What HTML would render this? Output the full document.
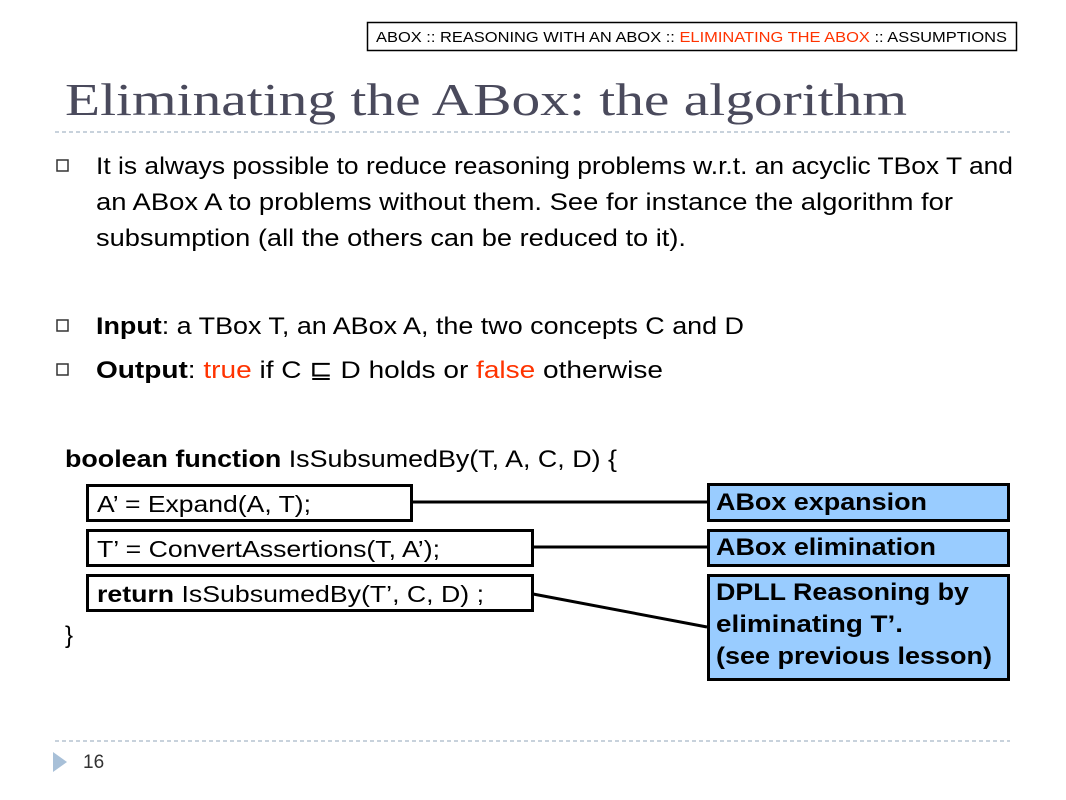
<!DOCTYPE html>
<html><head><meta charset="utf-8"><style>
html,body{margin:0;padding:0;background:#fff;width:1066px;height:800px;overflow:hidden}
</style></head><body>
<svg width="1066" height="800" xmlns="http://www.w3.org/2000/svg" font-family="Liberation Sans, sans-serif">
<rect x="367.5" y="22.5" width="649" height="28" fill="#fff" stroke="#000" stroke-width="1.5"/>
<text x="376" y="42" font-size="15" textLength="631" lengthAdjust="spacingAndGlyphs">ABOX :: REASONING WITH AN ABOX :: <tspan fill="#ff3300">ELIMINATING THE ABOX</tspan> :: ASSUMPTIONS</text>
<text x="65" y="115" font-family="Liberation Serif, serif" font-size="46" fill="#4a4a5c" textLength="842" lengthAdjust="spacingAndGlyphs">Eliminating the ABox: the algorithm</text>
<line x1="55" y1="132" x2="1010" y2="132" stroke="#a8b8c8" stroke-width="1.2" stroke-dasharray="4,3"/>
<g fill="none" stroke="#333" stroke-width="1.5">
<rect x="57" y="160" width="11" height="11"/><rect x="57" y="320" width="11" height="11"/><rect x="57" y="364" width="11" height="11"/>
</g>
<g font-size="24" fill="#000">
<text x="96" y="174" textLength="917" lengthAdjust="spacingAndGlyphs">It is always possible to reduce reasoning problems w.r.t. an acyclic TBox T and</text>
<text x="96" y="210" textLength="857" lengthAdjust="spacingAndGlyphs">an ABox A to problems without them. See for instance the algorithm for</text>
<text x="96" y="246" textLength="590" lengthAdjust="spacingAndGlyphs">subsumption (all the others can be reduced to it).</text>
<text x="96" y="334" textLength="648" lengthAdjust="spacingAndGlyphs"><tspan font-weight="bold">Input</tspan>: a TBox T, an ABox A, the two concepts C and D</text>
<text x="96" y="378" textLength="567" lengthAdjust="spacingAndGlyphs"><tspan font-weight="bold">Output</tspan>: <tspan fill="#ff3300">true</tspan> if C ⊑ D holds or <tspan fill="#ff3300">false</tspan> otherwise</text>
<text x="65" y="467" textLength="552" lengthAdjust="spacingAndGlyphs"><tspan font-weight="bold">boolean function</tspan> IsSubsumedBy(T, A, C, D) {</text>
<text x="65" y="643">}</text>
</g>
<g fill="#fff" stroke="#000" stroke-width="3">
<rect x="87.5" y="485.5" width="324" height="35"/>
<rect x="87.5" y="530.5" width="445" height="35"/>
<rect x="87.5" y="575.5" width="445" height="35"/>
</g>
<g font-size="23" fill="#000">
<text x="97" y="512" textLength="214" lengthAdjust="spacingAndGlyphs">A’ = Expand(A, T);</text>
<text x="97" y="557" textLength="343" lengthAdjust="spacingAndGlyphs">T’ = ConvertAssertions(T, A’);</text>
<text x="97" y="602" textLength="387" lengthAdjust="spacingAndGlyphs"><tspan font-weight="bold">return</tspan> IsSubsumedBy(T’, C, D) ;</text>
</g>
<g stroke="#000" stroke-width="3">
<line x1="412" y1="502" x2="707" y2="502"/>
<line x1="533" y1="547" x2="707" y2="547"/>
<line x1="533" y1="594" x2="707" y2="627"/>
</g>
<g fill="#99ccff" stroke="#000" stroke-width="3">
<rect x="708.5" y="484.5" width="300" height="36"/>
<rect x="708.5" y="530.5" width="300" height="35"/>
<rect x="708.5" y="575.5" width="300" height="104"/>
</g>
<g font-size="24" font-weight="bold" fill="#000">
<text x="716" y="510" textLength="211" lengthAdjust="spacingAndGlyphs">ABox expansion</text>
<text x="716" y="555" textLength="220" lengthAdjust="spacingAndGlyphs">ABox elimination</text>
<text x="716" y="600" textLength="253" lengthAdjust="spacingAndGlyphs">DPLL Reasoning by</text>
<text x="716" y="632" textLength="187" lengthAdjust="spacingAndGlyphs">eliminating T’.</text>
<text x="716" y="664" textLength="276" lengthAdjust="spacingAndGlyphs">(see previous lesson)</text>
</g>
<line x1="55" y1="741" x2="1010" y2="741" stroke="#a8b8c8" stroke-width="1.2" stroke-dasharray="4,3"/>
<polygon points="53,752 67,762 53,772" fill="#a8c0d8"/>
<text x="83" y="768" font-size="19" fill="#333">16</text>
</svg>
</body></html>
